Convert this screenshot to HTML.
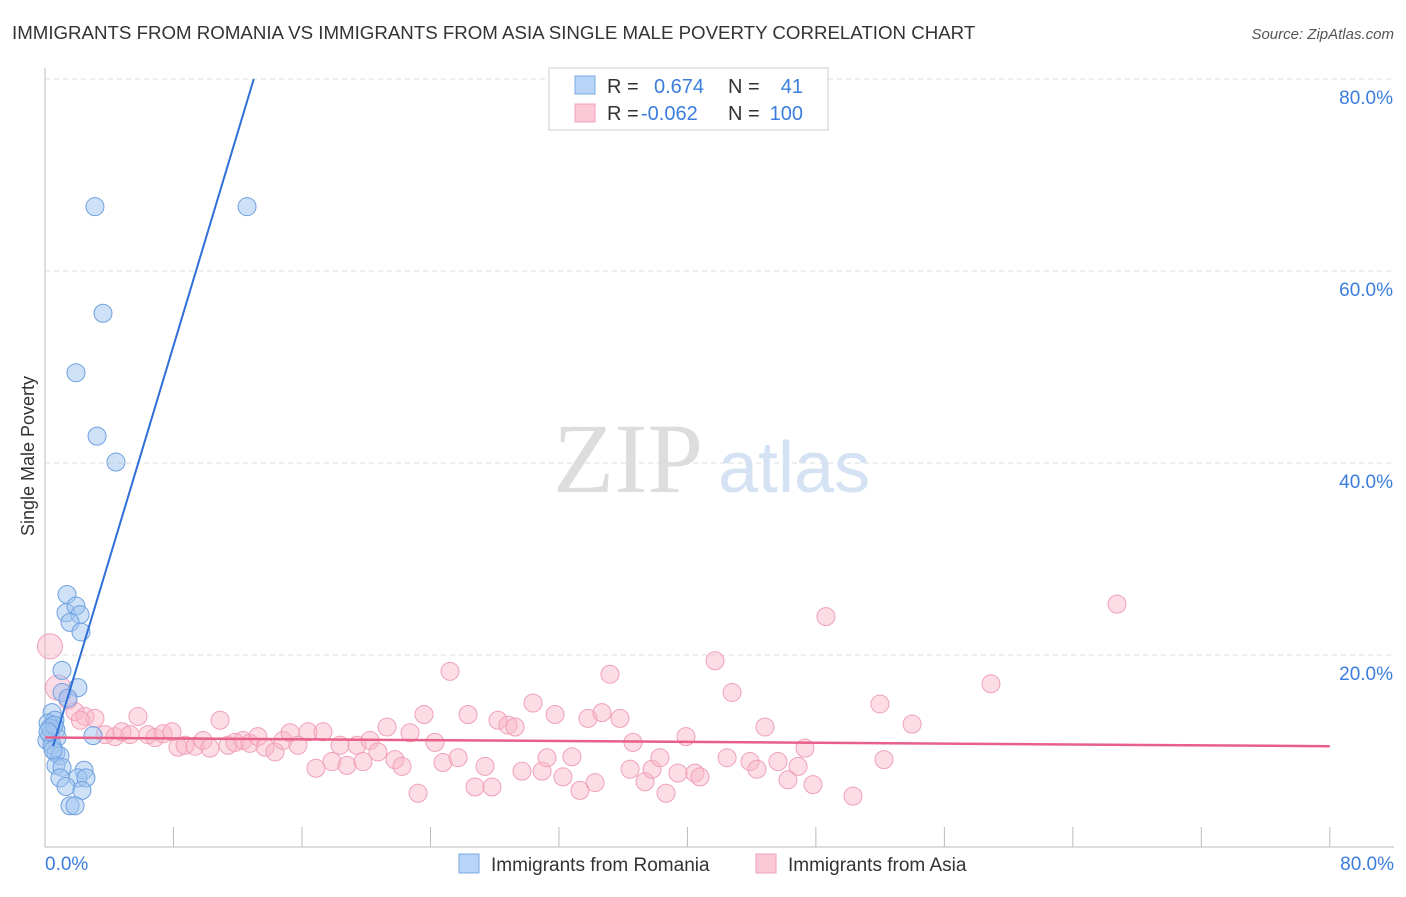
<!DOCTYPE html>
<html><head><meta charset="utf-8"><style>
body{margin:0;background:#fff;font-family:"Liberation Sans",sans-serif;}
svg text{font-family:"Liberation Sans",sans-serif;}
</style></head><body>
<svg id="c" width="1406" height="892">
<text x="12" y="39" font-size="18.7" fill="#333">IMMIGRANTS FROM ROMANIA VS IMMIGRANTS FROM ASIA SINGLE MALE POVERTY CORRELATION CHART</text>
<text x="1394" y="39" font-size="15" fill="#555" font-style="italic" text-anchor="end">Source: ZipAtlas.com</text>
<text transform="translate(34,456) rotate(-90)" font-size="18" fill="#333" text-anchor="middle">Single Male Poverty</text>
<g id="grid"></g>
<text x="553" y="492" style="font-family:'Liberation Serif',serif;font-size:100px" fill="#ddd">ZIP</text>
<text x="718" y="492" font-size="72" fill="#d4e2f4">atlas</text>
<g id="pts"></g>
<g id="lines"></g>
<g>
<rect x="549" y="68" width="279" height="62" fill="#fff" stroke="#ccc"/>
<rect x="575" y="76" width="20" height="18" fill="#b8d4f6" stroke="#7aa8e0"/>
<text x="607" y="93" font-size="20" fill="#333">R =</text><text x="654" y="93" font-size="20" fill="#3b7ddd">0.674</text>
<text x="728" y="93" font-size="20" fill="#333">N =</text><text x="803" y="93" font-size="20" fill="#3b7ddd" text-anchor="end">41</text>
<rect x="575" y="104" width="20" height="18" fill="#fbc8d8" stroke="#f0a0b8"/>
<text x="607" y="120" font-size="20" fill="#333">R =</text><text x="641" y="120" font-size="20" fill="#3b7ddd">-0.062</text>
<text x="728" y="120" font-size="20" fill="#333">N =</text><text x="803" y="120" font-size="20" fill="#3b7ddd" text-anchor="end">100</text>
</g>
<g>
<rect x="459" y="854" width="20" height="19" fill="#b8d4f6" stroke="#7aa8e0"/>
<text x="491" y="871" font-size="19" fill="#333">Immigrants from Romania</text>
<rect x="756" y="854" width="20" height="19" fill="#fbc8d8" stroke="#f0a0b8"/>
<text x="788" y="871" font-size="19" fill="#333">Immigrants from Asia</text>
</g>
</svg>
<script>
const romaniaX=[3.11,12.58,3.61,1.93,3.24,4.42,1.37,1.31,1.93,2.18,1.56,2.24,1.06,2.05,1.06,1.43,0.44,0.62,0.19,0.68,0.31,0.75,0.12,0.44,2.99,0.68,0.93,0.68,1.06,0.93,2.43,2.05,2.55,1.31,2.3,1.56,1.87,0.31,0.56,0.19,0.5];
const romaniaY=[66.7,66.7,55.6,49.4,42.8,40.1,26.3,24.4,25.1,24.2,23.4,22.4,18.4,16.6,16.1,15.5,14.0,13.2,12.9,12.2,11.7,11.4,11.1,10.6,11.6,9.8,9.5,8.5,8.3,7.2,8.0,7.2,7.2,6.3,5.9,4.3,4.3,12.4,12.7,12.0,10.1];
const asiaX=[0.31,0.81,1.43,1.87,2.49,3.11,3.74,4.36,4.79,5.29,5.79,6.41,6.85,7.35,7.91,8.28,8.72,9.34,9.84,10.27,10.9,11.4,11.83,12.33,12.76,13.26,13.7,14.32,14.82,15.26,15.75,16.38,16.87,17.31,17.87,18.37,18.8,19.43,19.8,20.24,20.73,21.3,21.79,22.23,22.73,23.23,23.6,24.28,24.78,25.22,25.72,26.34,26.77,27.4,27.83,28.21,28.83,29.27,29.7,30.39,30.95,31.26,31.76,32.25,32.81,33.31,33.81,34.25,34.68,35.18,35.8,36.43,36.61,37.36,37.8,38.29,38.67,39.41,39.91,40.47,40.78,41.72,42.47,42.78,43.9,44.33,44.83,45.64,46.26,46.89,47.32,47.82,48.63,51.99,52.24,53.99,58.9,66.75,50.31,2.2];
const asiaY=[20.9,16.6,15.3,14.1,13.6,13.4,11.7,11.5,12.0,11.7,13.6,11.7,11.4,11.8,12.0,10.4,10.6,10.5,11.1,10.3,13.2,10.6,10.9,11.1,10.8,11.5,10.4,9.9,11.1,11.9,10.6,12.0,8.2,12.0,8.9,10.6,8.5,10.6,8.9,11.1,9.9,12.5,9.1,8.4,11.9,5.6,13.8,10.9,8.8,18.3,9.3,13.8,6.25,8.4,6.25,13.2,12.7,12.5,7.9,15.0,7.9,9.3,13.8,7.3,9.4,5.9,13.4,6.7,14.0,18.0,13.4,8.1,10.9,6.8,8.1,9.3,5.6,7.7,11.5,7.7,7.3,19.4,9.3,16.1,8.9,8.1,12.5,8.9,7.0,8.4,10.3,6.5,24.0,14.9,9.1,12.8,17.0,25.3,5.3,13.2];
const yTicks=[20,40,60,80];
const yTickLabels=["20.0%","40.0%","60.0%","80.0%"];
const romaniaTrend=[0.5,10.5,13.0,80.0];
const asiaTrend=[0,11.4,80,10.5];
const NS="http://www.w3.org/2000/svg";
const X=v=>45+v*16.06, Y=v=>847-v*9.6;
function mk(t,a,p){const e=document.createElementNS(NS,t);for(const k in a)e.setAttribute(k,a[k]);p.appendChild(e);return e;}
const grid=document.getElementById('grid');
yTicks.forEach((t,i)=>{
 const l=mk('line',{x1:45,x2:1394,y1:Y(t),y2:Y(t),stroke:'#ddd','stroke-dasharray':'5,4'},grid);
 
 
 const tx=mk('text',{x:1393,y:Y(t)+25,'font-size':19,fill:'#3b7ddd','text-anchor':'end'},grid);
 tx.textContent=yTickLabels[i];
 
 
});
const ax=mk('line',{x1:45,x2:45,y1:68,y2:847,stroke:'#bbb'},grid);


const bx=mk('line',{x1:45,x2:1394,y1:847,y2:847,stroke:'#bbb'},grid);


for(let i=1;i<=10;i++){const t=mk('line',{x1:X(i*8),x2:X(i*8),y1:827,y2:847,stroke:'#bbb'},grid);
 
 }
[["0.0%",45,'start'],["80.0%",1394,'end']].forEach(a=>{const t=mk('text',{x:a[1],y:870,'font-size':19,fill:'#3b7ddd','text-anchor':a[2]},grid);t.textContent=a[0];
 
 });
const pts=document.getElementById('pts');
asiaX.forEach((x,i)=>{const big=(i==0||i==1);const c=mk('circle',{cx:X(x),cy:Y(asiaY[i]),r:big?12.5:9,fill:'rgba(248,180,200,0.45)',stroke:'#f0a0b8','stroke-width':1},pts);
 
 });
romaniaX.forEach((x,i)=>{const c=mk('circle',{cx:X(x),cy:Y(romaniaY[i]),r:9,fill:'rgba(160,196,240,0.5)',stroke:'#6fa0e0','stroke-width':1},pts);
 
 });
const lines=document.getElementById('lines');
const l1=mk('line',{x1:X(romaniaTrend[0]),y1:Y(romaniaTrend[1]),x2:X(romaniaTrend[2]),y2:Y(romaniaTrend[3]),stroke:'#2f6fd8','stroke-width':2},lines);


const l2=mk('line',{x1:X(asiaTrend[0]),y1:Y(asiaTrend[1]),x2:X(asiaTrend[2]),y2:Y(asiaTrend[3]),stroke:'#e8608a','stroke-width':2.5},lines);


</script>
</body></html>
